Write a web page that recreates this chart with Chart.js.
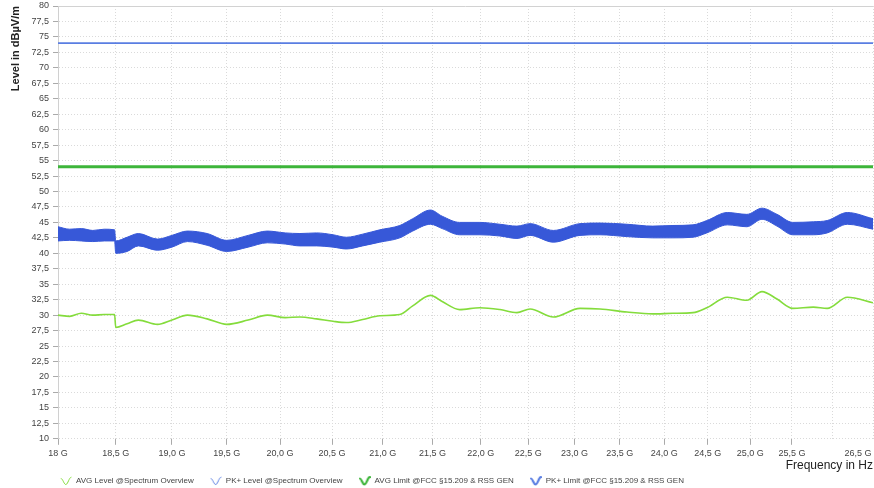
<!DOCTYPE html>
<html>
<head>
<meta charset="utf-8">
<script src="https://cdn.jsdelivr.net/npm/chart.js@4"></script>
<style>
  body { margin: 0; background: #fff; }
  canvas { display: block; }
</style>
</head>
<body>
<canvas id="chart" width="874" height="488"></canvas>
<script>
// frequencies in GHz (x axis is logarithmic)
const freqGHz = [18.0, 18.1, 18.2, 18.3, 18.4, 18.49, 18.5, 18.6, 18.7, 18.87, 19.0, 19.14, 19.32, 19.5, 19.7, 19.88,
  20.05, 20.19, 20.35, 20.51, 20.64, 20.8, 20.97, 21.17, 21.3, 21.48, 21.6, 21.78, 21.99, 22.2, 22.38, 22.52, 22.77,
  23.06, 23.28, 23.58, 23.87, 24.1, 24.33, 24.49, 24.73, 24.96, 25.14, 25.32, 25.51, 25.76, 25.93, 26.18, 26.5];

const avgLevel = [30.0, 29.8, 30.3, 30.0, 30.1, 30.1, 28.0, 28.6, 29.2, 28.5, 29.2, 30.0, 29.4, 28.5, 29.2, 30.0,
  29.6, 29.7, 29.4, 29.0, 28.8, 29.3, 29.9, 30.1, 31.5, 33.2, 32.2, 30.9, 31.2, 30.9, 30.4, 31.0, 29.7,
  31.1, 31.0, 30.5, 30.2, 30.3, 30.4, 31.2, 32.9, 32.4, 33.8, 32.6, 31.1, 31.3, 31.1, 32.9, 32.0];

// PK+ trace is a noisy band: upper and lower envelope
const pkUpper = [44.3, 43.9, 44.0, 43.7, 43.9, 43.8, 42.0, 42.6, 43.2, 42.3, 42.9, 43.6, 43.2, 42.1, 42.9, 43.6,
  43.3, 43.2, 43.3, 43.0, 42.6, 43.1, 43.8, 44.5, 45.6, 47.0, 46.0, 45.0, 45.0, 44.7, 44.4, 44.8, 43.7,
  44.8, 44.9, 44.7, 44.4, 44.5, 44.6, 45.3, 46.6, 46.3, 47.3, 46.3, 45.0, 45.1, 45.3, 46.6, 45.6];

const pkLower = [42.0, 42.1, 42.0, 41.9, 42.0, 42.0, 40.0, 40.3, 41.2, 40.5, 41.0, 41.9, 41.3, 40.3, 41.0, 41.7,
  41.5, 41.2, 41.2, 41.0, 40.7, 41.2, 41.8, 42.5, 43.6, 44.7, 44.0, 43.0, 43.0, 42.8, 42.4, 42.9, 41.8,
  42.9, 43.0, 42.7, 42.5, 42.5, 42.6, 43.3, 44.6, 44.3, 45.5, 44.4, 43.0, 43.0, 43.3, 44.7, 43.9];

const limitFreqs = [18, 26.5];
const avgLimit = [54, 54];
const pkLimit = [74, 74];

const xTicks = [18, 18.5, 19, 19.5, 20, 20.5, 21, 21.5, 22, 22.5, 23, 23.5, 24, 24.5, 25, 25.5, 26, 26.5];
const xTickLabels = ["18 G", "18,5 G", "19,0 G", "19,5 G", "20,0 G", "20,5 G", "21,0 G", "21,5 G", "22,0 G",
  "22,5 G", "23,0 G", "23,5 G", "24,0 G", "24,5 G", "25,0 G", "25,5 G", "", "26,5 G"];

const seriesNames = [
  "AVG Level @Spectrum Overview",
  "PK+ Level @Spectrum Overview",
  "AVG Limit @FCC §15.209 & RSS GEN",
  "PK+ Limit @FCC §15.209 & RSS GEN"
];

const FONT = "'Liberation Sans', Arial, sans-serif";
Chart.defaults.font.family = FONT;

const GREEN_LVL = "#84dc3c";
const BLUE_LVL = "#3758d8";
const GREEN_LIM = "#3db53a";
const BLUE_LIM = "#5a7ee2";

function pts(xs, ys) {
  return xs.map((x, i) => ({ x: x, y: ys[i] }));
}

// little wave glyph used in the legend
function waveIcon(color, w) {
  const c = document.createElement("canvas");
  c.width = 12;
  c.height = 10;
  const g = c.getContext("2d");
  g.strokeStyle = color;
  g.lineWidth = w;
  g.lineCap = "round";
  g.beginPath();
  g.moveTo(1.2, 2.5);
  g.bezierCurveTo(3, 2.5, 4, 9, 6, 8.5);
  g.bezierCurveTo(8, 8, 9, 1.5, 11, 1.2);
  g.stroke();
  return c;
}
const icons = [waveIcon(GREEN_LVL, 1), waveIcon(BLUE_LIM, 1), null, waveIcon(GREEN_LIM, 2.2), waveIcon(BLUE_LIM, 2.2)];

const topBorder = {
  id: "topBorder",
  afterLayout(chart) {
    // legend starts just right of the y axis
    chart.legend.left = 44;
  },
  beforeDatasetsDraw(chart) {
    const { ctx, chartArea: a } = chart;
    ctx.save();
    ctx.strokeStyle = "#d2d2d2";
    ctx.lineWidth = 1;
    ctx.beginPath();
    ctx.moveTo(a.left, Math.round(a.top) + 0.5);
    ctx.lineTo(a.right, Math.round(a.top) + 0.5);
    ctx.stroke();
    ctx.restore();
  }
};

new Chart(document.getElementById("chart"), {
  type: "line",
  data: {
    datasets: [
      { label: seriesNames[0], data: pts(freqGHz, avgLevel), borderColor: GREEN_LVL, borderWidth: 1.6,
        pointRadius: 0, cubicInterpolationMode: "monotone", fill: false },
      { label: seriesNames[1], data: pts(freqGHz, pkUpper), borderColor: BLUE_LVL, backgroundColor: BLUE_LVL,
        borderWidth: 1, pointRadius: 0, cubicInterpolationMode: "monotone", fill: "+1" },
      { label: "pk-lower", data: pts(freqGHz, pkLower), borderColor: BLUE_LVL, borderWidth: 1,
        pointRadius: 0, cubicInterpolationMode: "monotone", fill: false },
      { label: seriesNames[2], data: pts(limitFreqs, avgLimit), borderColor: GREEN_LIM, borderWidth: 3,
        pointRadius: 0, fill: false },
      { label: seriesNames[3], data: pts(limitFreqs, pkLimit), borderColor: BLUE_LIM, borderWidth: 1.6,
        pointRadius: 0, fill: false }
    ]
  },
  options: {
    responsive: false,
    animation: false,
    devicePixelRatio: 1,
    layout: { padding: { top: 6, right: 1, bottom: -7, left: 0 } },
    plugins: {
      tooltip: { enabled: false },
      legend: {
        position: "bottom",
        align: "start",
        fullSize: false,
        labels: {
          usePointStyle: true,
          pointStyleWidth: 12,
          padding: 16,
          color: "#444",
          font: { size: 8 },
          generateLabels(chart) {
            const items = Chart.defaults.plugins.legend.labels.generateLabels(chart);
            return items.filter(it => it.datasetIndex !== 2).map(it => {
              it.pointStyle = icons[it.datasetIndex];
              return it;
            });
          }
        }
      }
    },
    scales: {
      x: {
        type: "logarithmic",
        min: 18,
        max: 26.5,
        afterBuildTicks: s => { s.ticks = xTicks.map(v => ({ value: v })); },
        afterFit: s => { s.paddingLeft = 0; s.paddingRight = 0; },
        ticks: {
          autoSkip: false,
          maxRotation: 0,
          minRotation: 0,
          color: "#444",
          padding: 3,
          font: { size: 9 },
          callback: (v, i) => i === xTicks.length - 1 ? xTickLabels[i] + "            " : xTickLabels[i]
        },
        grid: {
          color: "#dadada",
          tickLength: 6,
          tickColor: c => c.index >= 16 ? "rgba(0,0,0,0)" : "#aaa"
        },
        border: { display: false, dash: [1, 2] },
        title: {
          display: true, text: "Frequency in Hz", align: "end", color: "#222",
          font: { size: 12 }, padding: { top: -3, bottom: -12 }
        }
      },
      y: {
        min: 10,
        max: 80,
        afterFit: s => { s.width = 58; s.paddingTop = 0; s.paddingBottom = 0; },
        ticks: {
          stepSize: 2.5,
          color: "#444",
          padding: 4,
          font: { size: 9 },
          callback: v => String(v).replace(".", ",")
        },
        grid: { color: "#dadada", tickLength: 5, tickColor: "#aaa" },
        border: { color: "#d0d0d0", dash: [1, 2] },
        title: {
          display: true, text: "Level in dBµV/m", align: "end", color: "#222",
          font: { size: 11, weight: "bold" }, padding: { top: 9, bottom: 0 }
        }
      }
    }
  },
  plugins: [topBorder]
});
</script>
</body>
</html>
